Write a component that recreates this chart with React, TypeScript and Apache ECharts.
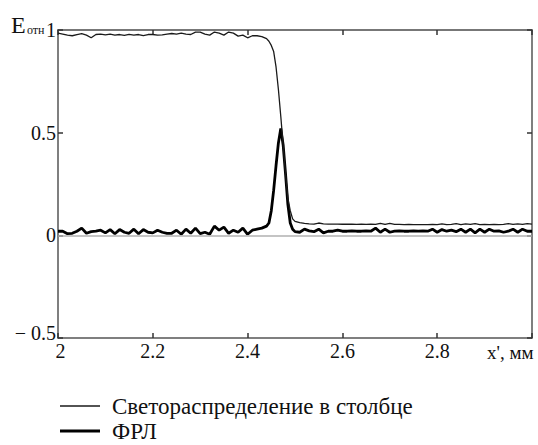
import React, { useEffect, useRef } from "react";
import * as echarts from "echarts";

const xs = [
  2.0, 2.01, 2.02, 2.03, 2.04, 2.05, 2.06, 2.07, 2.08, 2.09,
  2.1, 2.11, 2.12, 2.13, 2.14, 2.15, 2.16, 2.17, 2.18, 2.19,
  2.2, 2.21, 2.22, 2.23, 2.24, 2.25, 2.26, 2.27, 2.28, 2.29,
  2.3, 2.31, 2.32, 2.33, 2.34, 2.35, 2.36, 2.37, 2.38, 2.39,
  2.4, 2.41, 2.42, 2.43, 2.44,
  2.445, 2.45, 2.455, 2.46, 2.465, 2.47, 2.475, 2.48, 2.485, 2.49, 2.495, 2.5,
  2.51, 2.52, 2.53, 2.54, 2.55, 2.56, 2.57, 2.58, 2.59, 2.6,
  2.61, 2.62, 2.63, 2.64, 2.65, 2.66, 2.67, 2.68, 2.69, 2.7,
  2.71, 2.72, 2.73, 2.74, 2.75, 2.76, 2.77, 2.78, 2.79, 2.8,
  2.81, 2.82, 2.83, 2.84, 2.85, 2.86, 2.87, 2.88, 2.89, 2.9,
  2.91, 2.92, 2.93, 2.94, 2.95, 2.96, 2.97, 2.98, 2.99, 3.0,
];

const lightDistribution = [
  0.985, 0.98, 0.975, 0.972, 0.978, 0.982, 0.975, 0.962, 0.978, 0.98,
  0.976, 0.98, 0.975, 0.978, 0.974, 0.979, 0.975, 0.978, 0.973, 0.978,
  0.978, 0.975, 0.976, 0.98, 0.983, 0.98, 0.985, 0.98, 0.978, 0.99,
  0.99, 0.98, 0.975, 0.99, 0.985, 0.975, 0.99, 0.985, 0.97, 0.975,
  0.962, 0.972, 0.972, 0.968, 0.958,
  0.945, 0.925, 0.895, 0.82, 0.71, 0.58, 0.44, 0.3, 0.18, 0.12, 0.08, 0.068,
  0.062, 0.058, 0.056, 0.055, 0.06, 0.056, 0.055, 0.055, 0.055, 0.054,
  0.054, 0.054, 0.053, 0.054, 0.053, 0.054, 0.053, 0.058, 0.053, 0.058,
  0.053, 0.053, 0.052, 0.053, 0.052, 0.052, 0.052, 0.052, 0.053, 0.052,
  0.056, 0.052, 0.053, 0.057, 0.052, 0.056, 0.053, 0.057, 0.052, 0.053,
  0.052, 0.053, 0.052, 0.053, 0.057, 0.053, 0.056, 0.053, 0.057, 0.055,
];

const lsf = [
  0.02, 0.02, 0.008, 0.01, 0.02, 0.035, 0.01, 0.018, 0.02, 0.025,
  0.012, 0.028, 0.008, 0.028, 0.015, 0.01, 0.03, 0.008, 0.028, 0.015,
  0.012, 0.025, 0.015, 0.01, 0.01, 0.025, 0.005, 0.03, 0.01, 0.035,
  0.008, 0.015, 0.005, 0.045, 0.025, 0.04, 0.01, 0.025, 0.015, 0.035,
  0.005, 0.025, 0.03, 0.035, 0.045,
  0.06, 0.12, 0.22, 0.34, 0.45, 0.52, 0.44, 0.3, 0.15, 0.06, 0.03, 0.018,
  0.015, 0.03, 0.022, 0.018, 0.03, 0.012, 0.02, 0.02, 0.025, 0.02,
  0.02, 0.022, 0.02, 0.02, 0.022, 0.02, 0.035, 0.015, 0.03, 0.015,
  0.02, 0.022, 0.02, 0.02, 0.022, 0.02, 0.022, 0.02, 0.03, 0.015,
  0.028, 0.02, 0.025, 0.018, 0.03, 0.015, 0.03, 0.012, 0.03, 0.015,
  0.03, 0.02, 0.022, 0.015, 0.02, 0.03, 0.015, 0.03, 0.02, 0.02,
];

const seriesNames = ["Светораспределение в столбце", "ФРЛ"];
const xAxisTitle = "x', мм";
const yAxisTitleMain = "E";
const yAxisTitleSub = "отн";

const FONT = "Times New Roman, Liberation Serif, DejaVu Serif, serif";

export default function App() {
  const ref = useRef<HTMLDivElement>(null);

  useEffect(() => {
    if (!ref.current) return;
    const chart = echarts.init(ref.current, undefined, { renderer: "svg" });
    const axisColor = "#555";
    const pairs = (ys: number[]) => xs.map((x, i) => [x, ys[i]]);
    chart.setOption({
      animation: false,
      textStyle: { fontFamily: FONT },
      grid: { left: 58, right: 6, top: 30, bottom: 107, containLabel: false },
      xAxis: [
        {
          type: "value",
          min: 2,
          max: 3,
          interval: 0.2,
          position: "bottom",
          axisLine: { show: true, onZero: false, lineStyle: { color: axisColor, width: 1.5 } },
          axisTick: { show: true, inside: true, length: 5, lineStyle: { color: "#333", width: 1.5 } },
          splitLine: { show: false },
          axisLabel: {
            fontFamily: FONT,
            fontSize: 20,
            color: "#111",
            margin: 3,
            formatter: (v: number) =>
              Math.abs(v - 3) < 1e-6 ? "" : Math.abs(v - 2) < 1e-6 ? "{first|2}" : String(Math.round(v * 10) / 10),
            rich: { first: { fontFamily: FONT, fontSize: 20, color: "#111", padding: [0, 0, 0, 5] } },
          },
        },
        {
          type: "value",
          min: 2,
          max: 3,
          interval: 0.2,
          position: "top",
          axisLine: { show: true, onZero: false, lineStyle: { color: "#777", width: 2 } },
          axisTick: { show: true, inside: true, length: 5, lineStyle: { color: "#333", width: 1.5 } },
          splitLine: { show: false },
          axisLabel: { show: false },
        },
      ],
      yAxis: [
        {
          type: "value",
          min: -0.5,
          max: 1,
          interval: 0.5,
          position: "left",
          axisLine: { show: true, onZero: false, lineStyle: { color: axisColor, width: 1.5 } },
          axisTick: { show: true, inside: true, length: 5, lineStyle: { color: "#333", width: 1.5 } },
          splitLine: { show: false },
          axisLabel: {
            fontFamily: FONT,
            fontSize: 20,
            color: "#111",
            margin: 2,
            formatter: (v: number) => (v < 0 ? "{neg|− " + String(Math.abs(v)) + "}" : String(v)),
            rich: { neg: { fontFamily: FONT, fontSize: 20, color: "#111", padding: [0, 0, 10, 0] } },
          },
        },
        {
          type: "value",
          min: -0.5,
          max: 1,
          interval: 0.5,
          position: "right",
          axisLine: { show: true, onZero: false, lineStyle: { color: axisColor, width: 1.5 } },
          axisTick: { show: true, inside: true, length: 5, lineStyle: { color: "#333", width: 1.5 } },
          splitLine: { show: false },
          axisLabel: { show: false },
        },
      ],
      series: [
        {
          name: seriesNames[0],
          type: "line",
          xAxisIndex: 0,
          yAxisIndex: 0,
          showSymbol: false,
          symbol: "none",
          smooth: false,
          lineStyle: { color: "#1a1a1a", width: 1.3 },
          itemStyle: { color: "#1a1a1a" },
          data: pairs(lightDistribution),
          markLine: {
            silent: true,
            symbol: ["none", "none"],
            label: { show: false },
            lineStyle: { color: "#b0b0b0", width: 1.5, type: "solid" },
            data: [{ yAxis: 0 }],
          },
          z: 3,
        },
        {
          name: seriesNames[1],
          type: "line",
          xAxisIndex: 0,
          yAxisIndex: 0,
          showSymbol: false,
          symbol: "none",
          smooth: false,
          lineStyle: { color: "#000", width: 2.8 },
          itemStyle: { color: "#000" },
          data: pairs(lsf),
          z: 2,
        },
      ],
      graphic: [
        {
          type: "text",
          x: 487,
          y: 352,
          style: { text: xAxisTitle, font: "19px " + FONT, fill: "#111", verticalAlign: "middle" },
        },
        {
          type: "text",
          x: 11,
          y: 25,
          style: { text: yAxisTitleMain, font: "24px " + FONT, fill: "#111", verticalAlign: "middle" },
        },
        {
          type: "text",
          x: 27,
          y: 30,
          style: { text: yAxisTitleSub, font: "12px " + FONT, fill: "#111", verticalAlign: "middle" },
        },
        {
          type: "line",
          shape: { x1: 60, y1: 406, x2: 100, y2: 406 },
          style: { stroke: "#1a1a1a", lineWidth: 1.3 },
        },
        {
          type: "text",
          x: 112,
          y: 406,
          style: { text: seriesNames[0], font: "23px " + FONT, fill: "#111", verticalAlign: "middle" },
        },
        {
          type: "line",
          shape: { x1: 60, y1: 431, x2: 100, y2: 431 },
          style: { stroke: "#000", lineWidth: 2.8 },
        },
        {
          type: "text",
          x: 112,
          y: 431,
          style: { text: seriesNames[1], font: "23px " + FONT, fill: "#111", verticalAlign: "middle" },
        },
      ],
    });
    return () => chart.dispose();
  }, []);

  return <div ref={ref} style={{ width: 538, height: 445, position: "absolute", left: 0, top: 0, background: "#fff" }} />;
}
